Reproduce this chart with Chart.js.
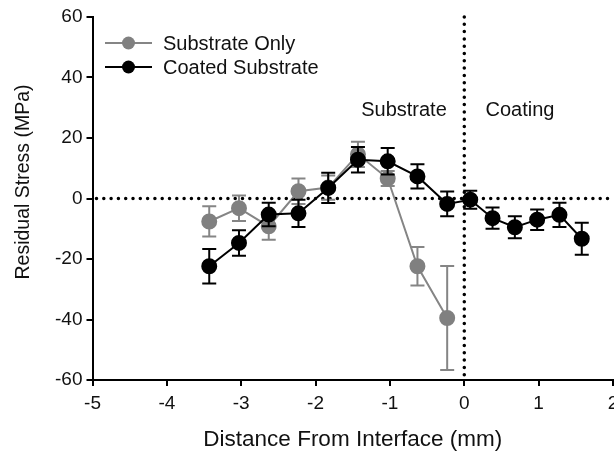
<!DOCTYPE html>
<html>
<head>
<meta charset="utf-8">
<script src="https://cdn.jsdelivr.net/npm/chart.js@4"></script>
<style>
  html, body { margin: 0; padding: 0; background: #fff; }
  canvas { display: block; }
</style>
</head>
<body>
<canvas id="myCanvas" width="614" height="455"></canvas>
<script>
// distance from interface (mm), stress (MPa) and +/- error
const substrateX = [-3.43, -3.03, -2.63, -2.23, -1.83, -1.43, -1.03, -0.63, -0.23];
const substrateY = [-7.6, -3.2, -9.2, 2.4, 3.6, 14.6, 6.6, -22.4, -39.5];
const substrateErr = [5.0, 4.2, 4.4, 4.2, 4.0, 4.2, 2.5, 6.4, 17.2];

const coatedX = [-3.43, -3.03, -2.63, -2.23, -1.83, -1.43, -1.03, -0.63, -0.23, 0.08, 0.38, 0.68, 0.98, 1.28, 1.58];
const coatedY = [-22.4, -14.7, -5.3, -4.9, 3.5, 12.8, 12.3, 7.3, -1.8, -0.4, -6.5, -9.5, -7.0, -5.4, -13.3];
const coatedErr = [5.7, 4.2, 3.9, 4.5, 5.0, 4.2, 4.4, 4.0, 4.1, 3.0, 3.5, 3.6, 3.4, 4.0, 5.3];

const seriesNames = ['Substrate Only', 'Coated Substrate'];
const regionLabels = ['Substrate', 'Coating'];
const xTitle = 'Distance From Interface (mm)';
const yTitle = 'Residual Stress (MPa)';

const GRAY = '#858585';
const FONT = '"Liberation Sans", Arial, Helvetica, sans-serif';

function toPoints(xs, ys) {
    return xs.map((x, i) => ({ x: x, y: ys[i] }));
}

// vertical error bars with caps, drawn just under each dataset
const errorBars = {
    id: 'errorBars',
    beforeDatasetDraw(chart, args) {
        const ds = chart.data.datasets[args.index];
        if (!ds.errors) return;
        const xs = chart.scales.x, ys = chart.scales.y;
        const ctx = chart.ctx;
        ctx.save();
        ctx.strokeStyle = ds.borderColor;
        ctx.lineWidth = 2;
        ds.data.forEach((p, i) => {
            const e = ds.errors[i];
            const px = xs.getPixelForValue(p.x);
            const top = ys.getPixelForValue(p.y + e);
            const bot = ys.getPixelForValue(p.y - e);
            ctx.beginPath();
            ctx.moveTo(px, top); ctx.lineTo(px, bot);
            ctx.moveTo(px - 7, top); ctx.lineTo(px + 7, top);
            ctx.moveTo(px - 7, bot); ctx.lineTo(px + 7, bot);
            ctx.stroke();
        });
        ctx.restore();
    }
};

// dotted zero lines, legend, region labels, axis titles
const decorations = {
    id: 'decorations',
    beforeDatasetsDraw(chart) {
        const ctx = chart.ctx, a = chart.chartArea;
        const x0 = chart.scales.x.getPixelForValue(0);
        const y0 = chart.scales.y.getPixelForValue(0);
        ctx.save();
        ctx.strokeStyle = '#000';
        ctx.lineWidth = 3.5;
        ctx.lineCap = 'round';
        ctx.setLineDash([0, 7.3]);
        ctx.beginPath();
        ctx.moveTo(a.left + 4, y0); ctx.lineTo(a.right, y0);
        ctx.moveTo(x0, a.top); ctx.lineTo(x0, a.bottom);
        ctx.stroke();
        ctx.restore();
    },
    afterDraw(chart) {
        const ctx = chart.ctx, a = chart.chartArea;
        ctx.save();
        ctx.fillStyle = '#111';
        ctx.textBaseline = 'middle';

        // legend
        const rows = [43, 67];
        chart.data.datasets.forEach((ds, i) => {
            const y = rows[i];
            ctx.strokeStyle = ds.borderColor;
            ctx.lineWidth = 2;
            ctx.beginPath();
            ctx.moveTo(105, y); ctx.lineTo(152, y);
            ctx.stroke();
            ctx.fillStyle = ds.pointBackgroundColor;
            ctx.beginPath();
            ctx.arc(128.5, y, 6.5, 0, Math.PI * 2);
            ctx.fill();
            ctx.fillStyle = '#111';
            ctx.font = '20px ' + FONT;
            ctx.textAlign = 'left';
            ctx.fillText(seriesNames[i], 163, y + 1);
        });

        // region labels either side of the interface
        ctx.font = '20px ' + FONT;
        ctx.textAlign = 'center';
        ctx.fillText(regionLabels[0], 404, 110);
        ctx.fillText(regionLabels[1], 520, 110);

        // axis titles
        ctx.font = '22.5px ' + FONT;
        ctx.fillText(xTitle, (a.left + a.right) / 2, 440);
        ctx.translate(24, 182);
        ctx.rotate(-Math.PI / 2);
        ctx.font = '19.5px ' + FONT;
        ctx.fillText(yTitle, 0, 0);
        ctx.restore();
    }
};

function init() {
    Chart.defaults.font.family = FONT;
    Chart.defaults.color = '#111';

    const axisGrid = {
        drawOnChartArea: false,
        drawTicks: true,
        tickLength: 6,
        color: '#000',
        lineWidth: 2
    };

    const ctx = document.getElementById('myCanvas').getContext('2d');
    new Chart(ctx, {
        type: 'scatter',
        data: {
            datasets: [{
                label: seriesNames[0],
                data: toPoints(substrateX, substrateY),
                errors: substrateErr,
                showLine: true,
                borderColor: GRAY,
                borderWidth: 2,
                pointBackgroundColor: '#808080',
                pointBorderColor: '#808080',
                pointRadius: 7,
                order: 1
            }, {
                label: seriesNames[1],
                data: toPoints(coatedX, coatedY),
                errors: coatedErr,
                showLine: true,
                borderColor: '#000',
                borderWidth: 2,
                pointBackgroundColor: '#000',
                pointBorderColor: '#000',
                pointRadius: 7,
                order: 0
            }]
        },
        options: {
            responsive: false,
            devicePixelRatio: 1,
            animation: false,
            layout: {
                autoPadding: false,
                padding: { top: 17, right: 1, left: 0, bottom: 0 }
            },
            plugins: {
                legend: { display: false },
                tooltip: { enabled: false }
            },
            scales: {
                x: {
                    type: 'linear',
                    min: -5,
                    max: 2,
                    ticks: { stepSize: 1, padding: 6, font: { size: 19 }, color: '#111' },
                    grid: axisGrid,
                    border: { color: '#000', width: 2 },
                    afterFit(scale) {
                        scale.height = 75;
                        scale.paddingLeft = 0;
                        scale.paddingRight = 0;
                    }
                },
                y: {
                    min: -60,
                    max: 60,
                    ticks: { stepSize: 20, padding: 4, font: { size: 19 }, color: '#111' },
                    grid: axisGrid,
                    border: { color: '#000', width: 2 },
                    afterFit(scale) {
                        scale.width = 92.5;
                        scale.paddingTop = 0;
                        scale.paddingBottom = 0;
                    }
                }
            }
        },
        plugins: [errorBars, decorations]
    });
}

document.addEventListener('DOMContentLoaded', init);
</script>
</body>
</html>
